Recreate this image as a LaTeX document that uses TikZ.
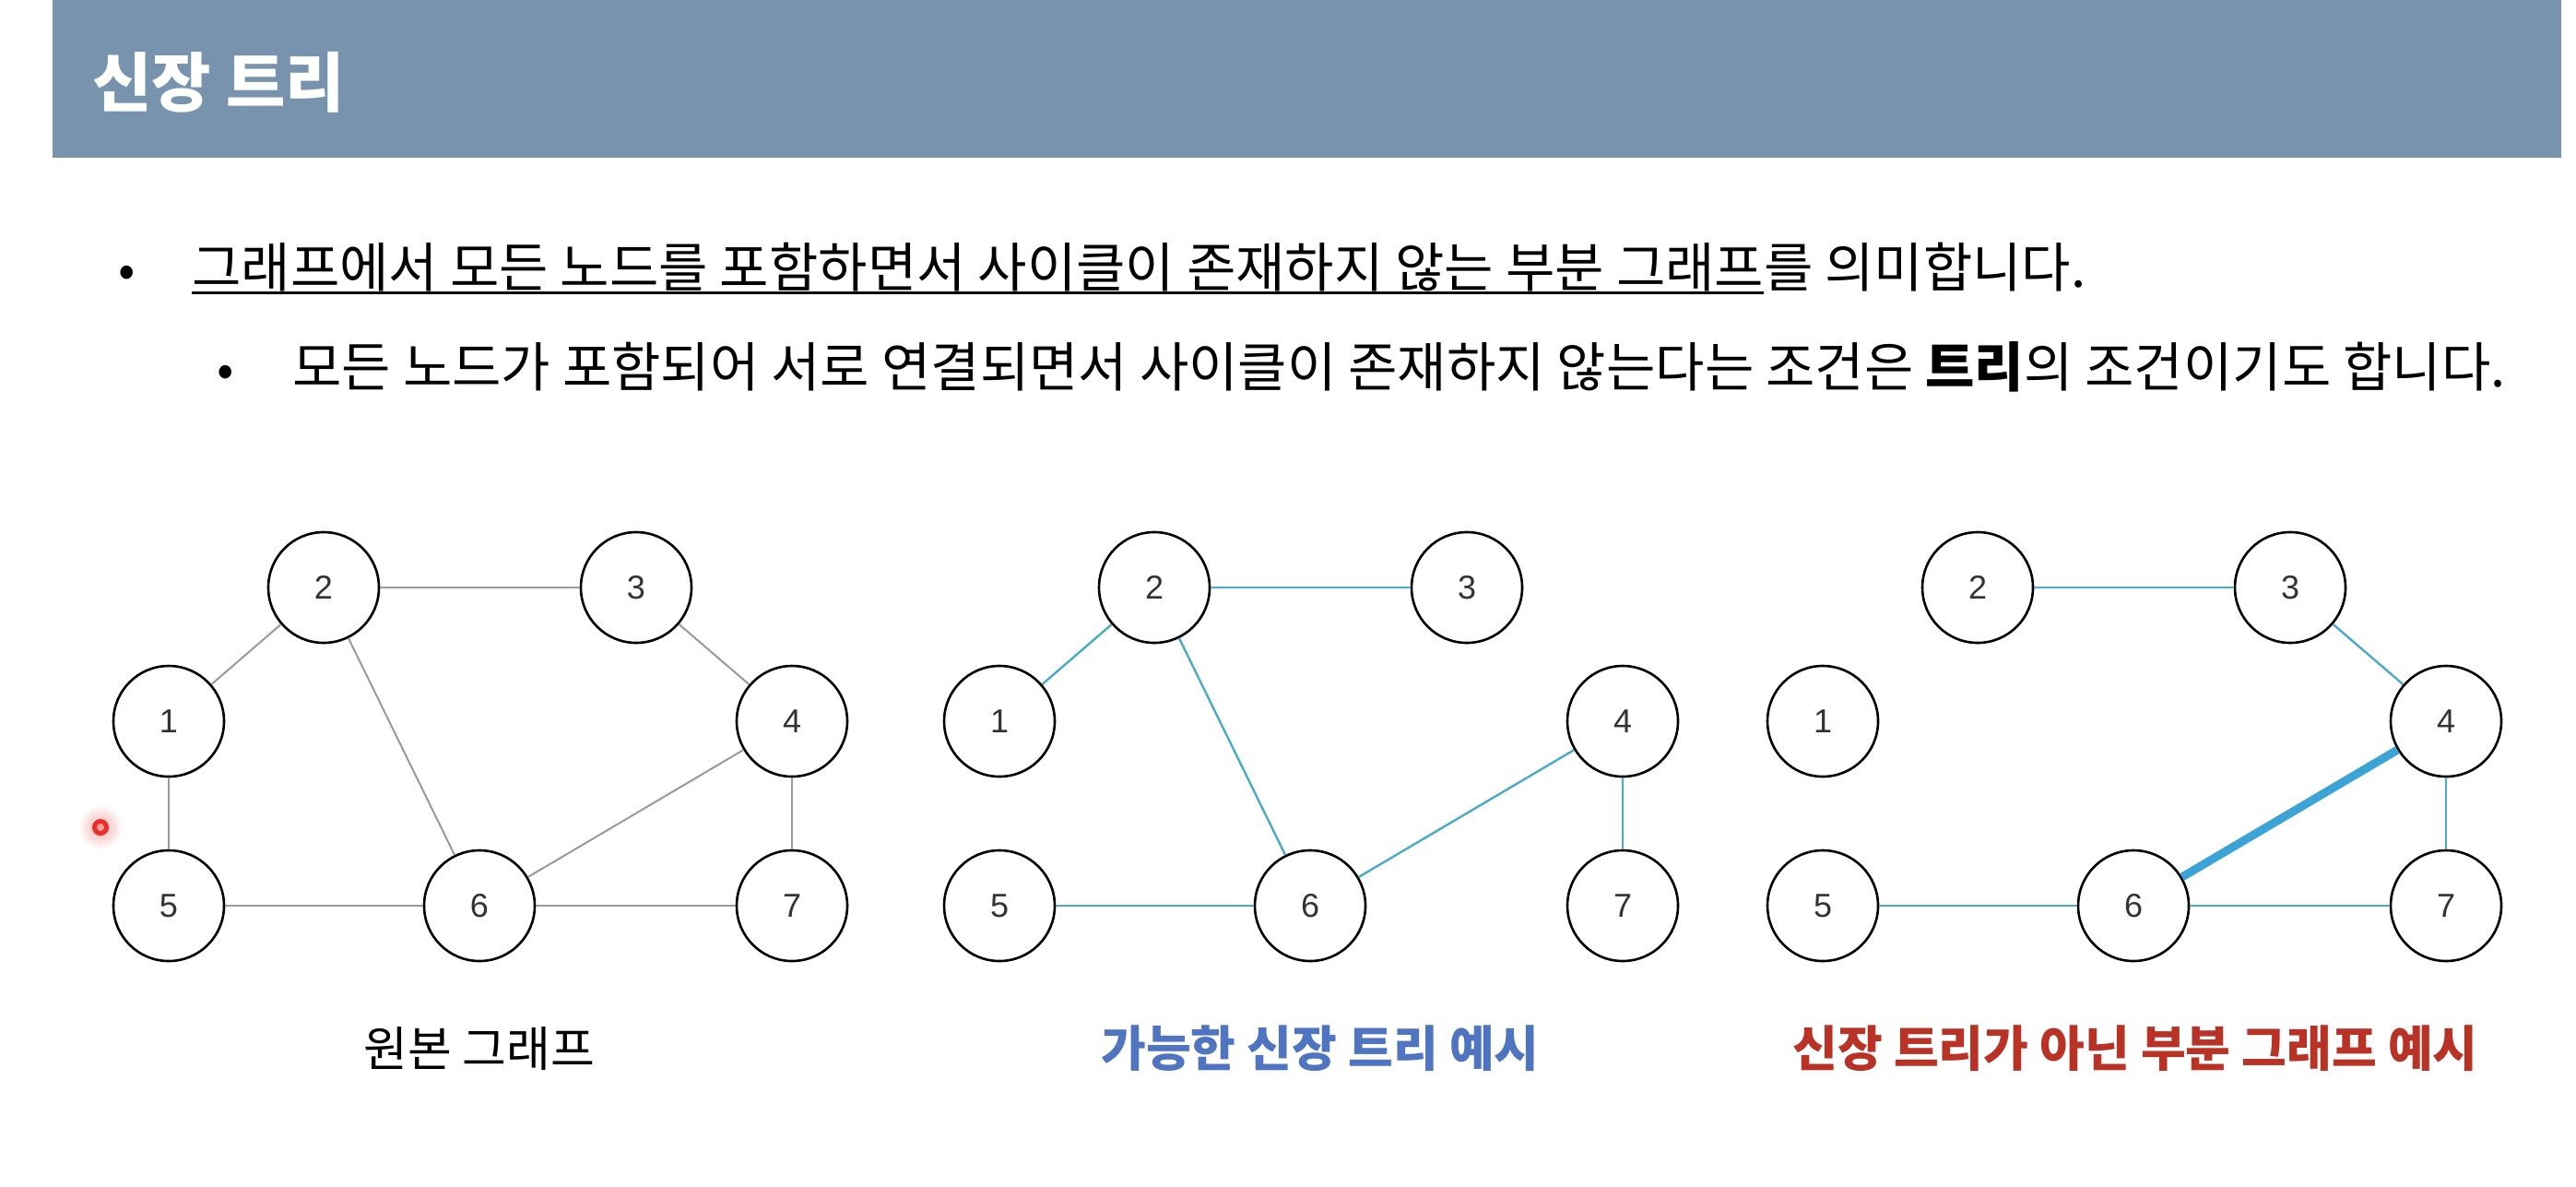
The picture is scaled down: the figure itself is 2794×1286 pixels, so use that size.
\documentclass[tikz,border=0pt]{standalone}
\usepackage{fontspec}
\setmainfont{Noto Sans CJK KR}
\newfontfamily\numfont{Liberation Sans}
\definecolor{barblue}{HTML}{7893AD}
\definecolor{edgegray}{HTML}{9A9A9A}
\definecolor{edgeblue}{HTML}{4AAAC8}
\definecolor{thickblue}{HTML}{3BA3D6}
\definecolor{lblblue}{HTML}{4F74C0}
\definecolor{lblred}{HTML}{B83226}
\definecolor{numgray}{HTML}{333333}
\definecolor{dotred}{HTML}{E8302A}
\newcommand\myuline[1]{\setbox0\hbox{#1}\rlap{\rule[-0.14em]{\wd0}{0.055em}}\box0}
\begin{document}
\begin{tikzpicture}[x=0.5pt,y=-0.5pt,
  vtx/.style={circle,draw=black,line width=1.3pt,minimum size=60pt,inner sep=0pt,fill=white,
              font=\numfont\fontsize{18}{18}\selectfont,text=numgray},
  grayedge/.style={draw=edgegray,line width=1pt},
  blueedge/.style={draw=edgeblue,line width=1.2pt},
  thickedge/.style={draw=thickblue,line width=4.5pt},
  bodytext/.style={anchor=base west,inner sep=0pt,font=\fontsize{29}{29}\selectfont},
  caption/.style={anchor=base,inner sep=0pt,font=\fontsize{26}{26}\selectfont}]
\useasboundingbox (0,0) rectangle (2794,1286);
\fill[white] (0,0) rectangle (2794,1286);
% header
\fill[barblue] (57,0) rectangle (2778,171);
\node[anchor=base west,inner sep=0pt,text=white,font=\fontsize{35}{35}\selectfont\bfseries] (title) at (100,115) {신장 트리};
% bullets
\node[anchor=base,inner sep=0pt,font=\fontsize{27}{27}\selectfont] (b1) at (138,311) {•};
\node[bodytext] (t1) at (208,311) {\myuline{그래프에서 모든 노드를 포함하면서 사이클이 존재하지 않는 부분 그래프}를 의미합니다.};
\node[anchor=base,inner sep=0pt,font=\fontsize{27}{27}\selectfont] (b2) at (245,419) {•};
\node[bodytext] (t2) at (317,419) {모든 노드가 포함되어 서로 연결되면서 사이클이 존재하지 않는다는 조건은 {\bfseries 트리}의 조건이기도 합니다.};
% graphs
\foreach \g/\dx in {a/0,b/901,c/1794}{
  \node[vtx] (\g1) at (183+\dx,782) {1};
  \node[vtx] (\g2) at (351+\dx,637) {2};
  \node[vtx] (\g3) at (690+\dx,637) {3};
  \node[vtx] (\g4) at (859+\dx,782) {4};
  \node[vtx] (\g5) at (183+\dx,982) {5};
  \node[vtx] (\g6) at (520+\dx,982) {6};
  \node[vtx] (\g7) at (859+\dx,982) {7};
}
% original graph edges
\foreach \u/\v in {1/2,2/3,3/4,2/6,4/6,1/5,5/6,6/7,4/7}
  \draw[grayedge] (a\u) -- (a\v);
% spanning tree edges
\foreach \u/\v in {1/2,2/3,2/6,4/6,5/6,4/7}
  \draw[blueedge] (b\u) -- (b\v);
% non-tree subgraph edges
\foreach \u/\v in {2/3,3/4,4/7,5/6,6/7}
  \draw[blueedge] (c\u) -- (c\v);
\draw[thickedge] (c4) -- (c6);
% captions
\node[caption] (capa) at (520,1156) {원본 그래프};
\node[caption,text=lblblue,font=\fontsize{26.5}{26.5}\selectfont\bfseries] (capb) at (1432,1156) {가능한 신장 트리 예시};
\node[caption,text=lblred,font=\fontsize{26.5}{26.5}\selectfont\bfseries] (capc) at (2316,1156) {신장 트리가 아닌 부분 그래프 예시};
% laser pointer dot
\shade[inner color=dotred!40,outer color=white] (109,897) circle (24);
\fill[dotred!45!white] (109,897) circle (5);
\draw[dotred,line width=2.5pt] (109,897) circle (6.5);
\end{tikzpicture}
\end{document}
